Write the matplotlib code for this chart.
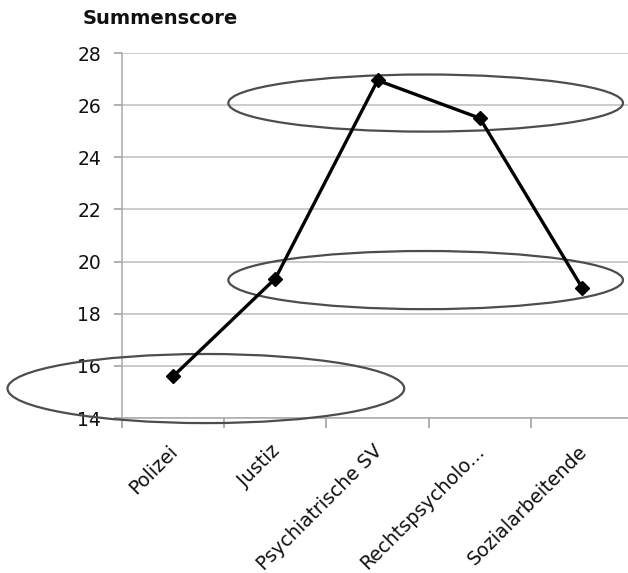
import matplotlib
matplotlib.use("Agg")
import matplotlib.pyplot as plt
import matplotlib.transforms as mtransforms
from matplotlib.patches import Ellipse

# Summenscore per Berufsgruppe
categories = ["Polizei", "Justiz", "Psychiatrische SV", "Rechtspsycholo...", "Sozialarbeitende"]
scores = [15.6, 19.35, 26.95, 25.5, 19.0]
y_ticks = [14, 16, 18, 20, 22, 24, 26, 28]

# Gruppierende Ellipsen (Mitte x, Mitte y, Breite, Höhe) in Datenkoordinaten
ellipse_cx = [0.32, 2.47, 2.47]
ellipse_cy = [15.13, 19.29, 26.08]
ellipse_w = [3.88, 3.86, 3.86]
ellipse_h = [2.65, 2.23, 2.19]

fig = plt.figure(figsize=(6.28, 5.73), dpi=100)
ax = fig.add_axes([0.1943, 0.2705, 0.814, 0.637])

x = list(range(len(categories)))
ax.plot(x, scores, color="black", lw=2.4, marker="D", markersize=7.5,
        markerfacecolor="black", markeredgecolor="black", zorder=4)

for cx, cy, w, h in zip(ellipse_cx, ellipse_cy, ellipse_w, ellipse_h):
    ax.add_patch(Ellipse((cx, cy), w, h, fill=False, edgecolor="#4d4d4d",
                         lw=1.6, clip_on=False, zorder=3))

ax.set_xlim(-0.5, len(categories) - 0.5)
ax.set_ylim(14, 28)
ax.set_yticks(y_ticks)
ax.set_yticklabels([str(v) for v in y_ticks], fontsize=13.5, color="#111111")
ax.yaxis.grid(True, color="#bdbdbd", lw=1.1)
ax.set_axisbelow(True)

ax.set_xticks(x)
ax.set_xticklabels(categories, rotation=45, ha="right", rotation_mode="anchor",
                   fontsize=13.8, color="#111111")
ax.tick_params(axis="x", length=0, pad=17)
shift = mtransforms.ScaledTranslation(-5 / 100, 0, fig.dpi_scale_trans)
for lbl in ax.get_xticklabels():
    lbl.set_transform(lbl.get_transform() + shift)
ax.set_xticks([i - 0.5 for i in range(len(categories) + 1)], minor=True)
ax.tick_params(axis="x", which="minor", length=7, color="#999999", width=1.1)
ax.tick_params(axis="y", length=6, color="#999999", width=1.1, pad=9)

for s in ["top", "right"]:
    ax.spines[s].set_visible(False)
for s in ["left", "bottom"]:
    ax.spines[s].set_color("#aaaaaa")
    ax.spines[s].set_linewidth(1.1)

fig.text(83 / 628, 1 - 19 / 573, "Summenscore", fontsize=14, fontweight="bold",
         ha="left", va="center", color="#111111")

fig.savefig("out.png", dpi=100)
